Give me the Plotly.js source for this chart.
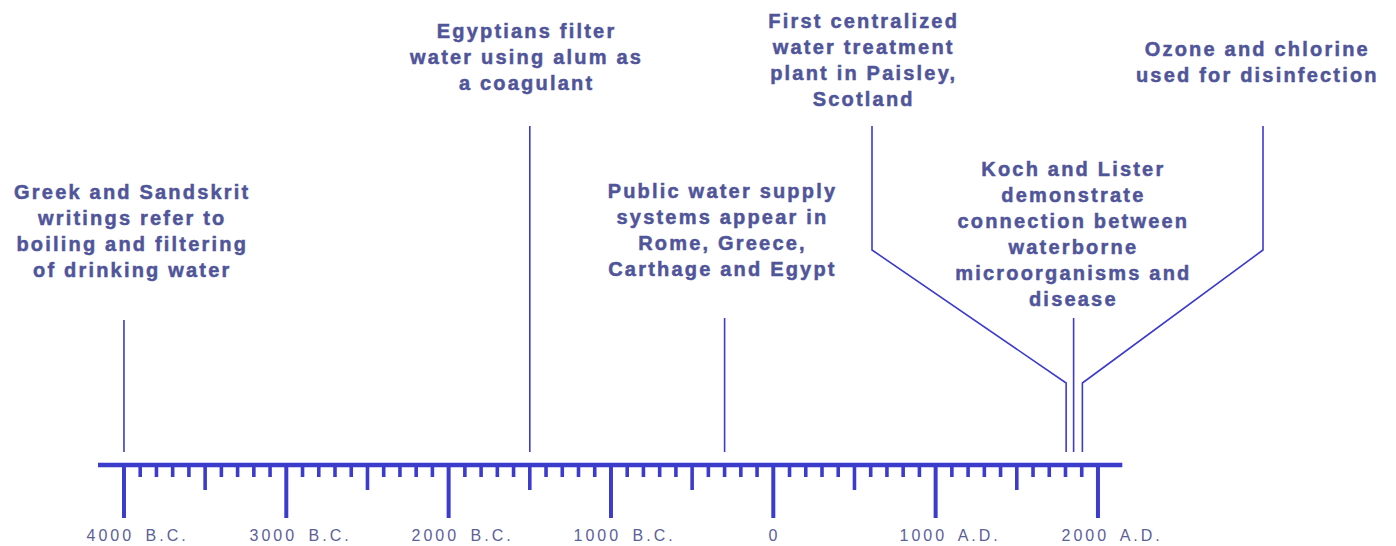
<!DOCTYPE html>
<html>
<head>
<meta charset="utf-8">
<script src="https://cdn.plot.ly/plotly-3.0.1.min.js"></script>
<style>
  html, body { margin: 0; padding: 0; background: #fff; }
  #chart { width: 1396px; height: 546px; }
</style>
</head>
<body>
<div id="chart"></div>
<script>
// ---- data ----
const eventYears = [-4000, -1500, -300, 1804, 1850, 1904];
const eventLabels = [
  "Greek and Sandskrit<br>writings refer to<br>boiling and filtering<br>of drinking water",
  "Egyptians filter<br>water using alum as<br>a coagulant",
  "Public water supply<br>systems appear in<br>Rome, Greece,<br>Carthage and Egypt",
  "First centralized<br>water treatment<br>plant in Paisley,<br>Scotland",
  "Koch and Lister<br>demonstrate<br>connection between<br>waterborne<br>microorganisms and<br>disease",
  "Ozone and chlorine<br>used for disinfection"
];
const tickYears = [-4000, -3000, -2000, -1000, 0, 1000, 2000];
const tickLabels = ["4000 B.C.", "3000 B.C.", "2000 B.C.", "1000 B.C.", "0", "1000 A.D.", "2000 A.D."];
const timelineStart = -4160, timelineEnd = 2150;
const minorStep = 100;

// ---- layout / styling ----
const W = 1396, H = 546;
const xRange = [-4763.7, 3836.0];
const pxToYear = px => xRange[0] + px / W * (xRange[1] - xRange[0]);
const lineColor = "#3b3bcc";
const textColor = "#50559a";
const tickTextColor = "#5c6099";

// label placement (pixel centres) and leader-line geometry
const labelCx = [132, 526, 722, 863, 1073, 1257];
const labelCy = [231, 57, 230, 60, 234, 62];
const leaderTop = [320, 126, 318, 126, 318, 126];
const leaderBottom = 452;
const bendAnchorPx = [null, null, null, 872, null, 1263]; // x of upper leader segment
const bendY = [250, 383];

const axisY = 465;
const majorLen = 518, midLen = 490, minorLen = 477;

const traces = [];
eventYears.forEach((yr, i) => {
  let xs, ys;
  if (bendAnchorPx[i] !== null) {
    const ax = pxToYear(bendAnchorPx[i]);
    xs = [ax, ax, yr, yr];
    ys = [leaderTop[i], bendY[0], bendY[1], leaderBottom];
  } else {
    xs = [yr, yr];
    ys = [leaderTop[i], leaderBottom];
  }
  traces.push({
    type: "scatter", mode: "lines", x: xs, y: ys,
    line: { color: lineColor, width: 1.6 }, hoverinfo: "skip", showlegend: false
  });
});

const shapes = [];
shapes.push({
  type: "line", xref: "x", yref: "y", x0: timelineStart, x1: timelineEnd, y0: axisY, y1: axisY,
  line: { color: lineColor, width: 4.5 }
});
for (let yr = tickYears[0]; yr <= tickYears[tickYears.length - 1]; yr += minorStep) {
  const m = ((yr % 1000) + 1000) % 1000;
  let len = minorLen, w = 3.6;
  if (m === 0) { len = majorLen; w = 4; }
  else if (m === 500) { len = midLen; w = 3.6; }
  shapes.push({
    type: "line", xref: "x", yref: "y", x0: yr, x1: yr, y0: axisY, y1: len,
    line: { color: lineColor, width: w }
  });
}

const annotations = [];
eventLabels.forEach((t, i) => {
  annotations.push({
    xref: "x", yref: "y", x: pxToYear(labelCx[i]), y: labelCy[i],
    text: t, showarrow: false, xanchor: "center", yanchor: "middle", align: "center",
    font: { family: "Liberation Sans, Arial, sans-serif", size: 20, color: textColor, weight: 700 }
  });
});
tickYears.forEach((yr, i) => {
  annotations.push({
    xref: "x", yref: "y", x: yr, y: 535, xshift: tickLabels[i].length > 1 ? 14 : 1,
    text: tickLabels[i], showarrow: false, xanchor: "center", yanchor: "middle",
    font: { family: "Liberation Sans, Arial, sans-serif", size: 16, color: tickTextColor }
  });
});

const layout = {
  width: W, height: H,
  margin: { l: 0, r: 0, t: 0, b: 0 },
  paper_bgcolor: "#ffffff", plot_bgcolor: "#ffffff",
  xaxis: { range: xRange, visible: false, fixedrange: true },
  yaxis: { range: [H, 0], visible: false, fixedrange: true },
  shapes: shapes,
  annotations: annotations,
  showlegend: false
};

// letter spacing / weight to match the wide-set heavy lettering of the original
const css = document.createElement("style");
let rules = "";
for (let i = 0; i < eventLabels.length; i++) rules += `g.annotation[data-index="${i}"] text { letter-spacing: 2.2px; stroke: ${textColor}; stroke-width: 0.5px; }\n`;
for (let i = 0; i < tickLabels.length; i++) rules += `g.annotation[data-index="${eventLabels.length + i}"] text { letter-spacing: 3px; word-spacing: 4px; }\n`;
css.textContent = rules;
document.head.appendChild(css);

Plotly.newPlot("chart", traces, layout, { staticPlot: true, displayModeBar: false });
</script>
</body>
</html>
